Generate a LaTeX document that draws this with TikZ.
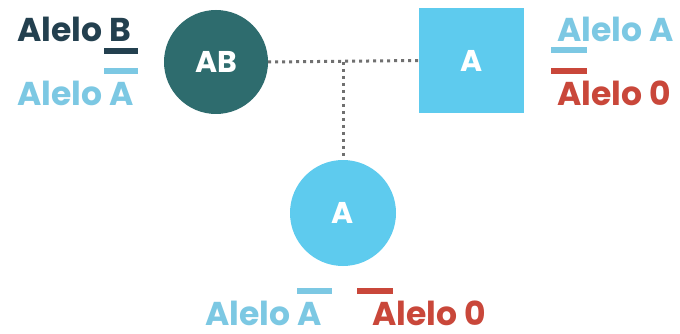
\documentclass[tikz,border=0pt]{standalone}
\usepackage{fontspec}
\setmainfont{Poppins}
\definecolor{teal}{HTML}{2E6C6E}
\definecolor{navy}{HTML}{23404F}
\definecolor{lblue}{HTML}{7CC8E3}
\definecolor{sky}{HTML}{5ECBEE}
\definecolor{rust}{HTML}{C9473A}
\definecolor{dots}{HTML}{707070}
\begin{document}
\begin{tikzpicture}[x=1pt,y=-1pt,
  lab/.style={font=\fontsize{33}{33}\selectfont\bfseries, inner sep=0pt, anchor=base west},
  inner/.style={font=\fontsize{30}{30}\selectfont\bfseries, text=white},
  bar/.style={line width=5.5pt},
  link/.style={dots, line width=3pt, dash pattern=on 3pt off 4pt}]
\fill[white] (0,0) rectangle (680,334);
\useasboundingbox (0,0) rectangle (680,334);
% parents and child
\node[circle, fill=teal, minimum size=104pt, inner sep=0pt, inner] (ab) at (216,62) {AB};
\node[rectangle, fill=sky, minimum size=105pt, inner sep=0pt, inner] (sq) at (471.5,60.5) {A};
\node[circle, fill=sky, minimum size=106pt, inner sep=0pt, inner] (ch) at (343,213) {A};
\coordinate (mid) at (343,62);
\draw[link] (ab.east) -- (sq.west);
\draw[link] (mid) -- (ch.north);
% left labels
\node[lab, text=navy] (lb) at (17,42) {Alelo B};
\draw[bar, navy] (104,51) coordinate (b1) -- (138,51) coordinate (b2);
\draw[bar, lblue] (104,71) coordinate (b3) -- (138,71) coordinate (b4);
\node[lab, text=lblue] (la) at (17,106) {Alelo A};
% right labels
\node[lab, text=lblue] (ra) at (557,42) {Alelo A};
\draw[bar, lblue] (551,50) coordinate (r1) -- (587,50) coordinate (r2);
\draw[bar, rust] (551,71) coordinate (r3) -- (587,71) coordinate (r4);
\node[lab, text=rust] (r0) at (557,106) {Alelo 0};
% bottom labels
\draw[bar, lblue] (297,291) coordinate (c1) -- (332,291) coordinate (c2);
\draw[bar, rust] (357,291) coordinate (c3) -- (393,291) coordinate (c4);
\node[lab, text=lblue] (ca) at (205,325) {Alelo A};
\node[lab, text=rust] (c0) at (372,325) {Alelo 0};
\end{tikzpicture}
\end{document}
